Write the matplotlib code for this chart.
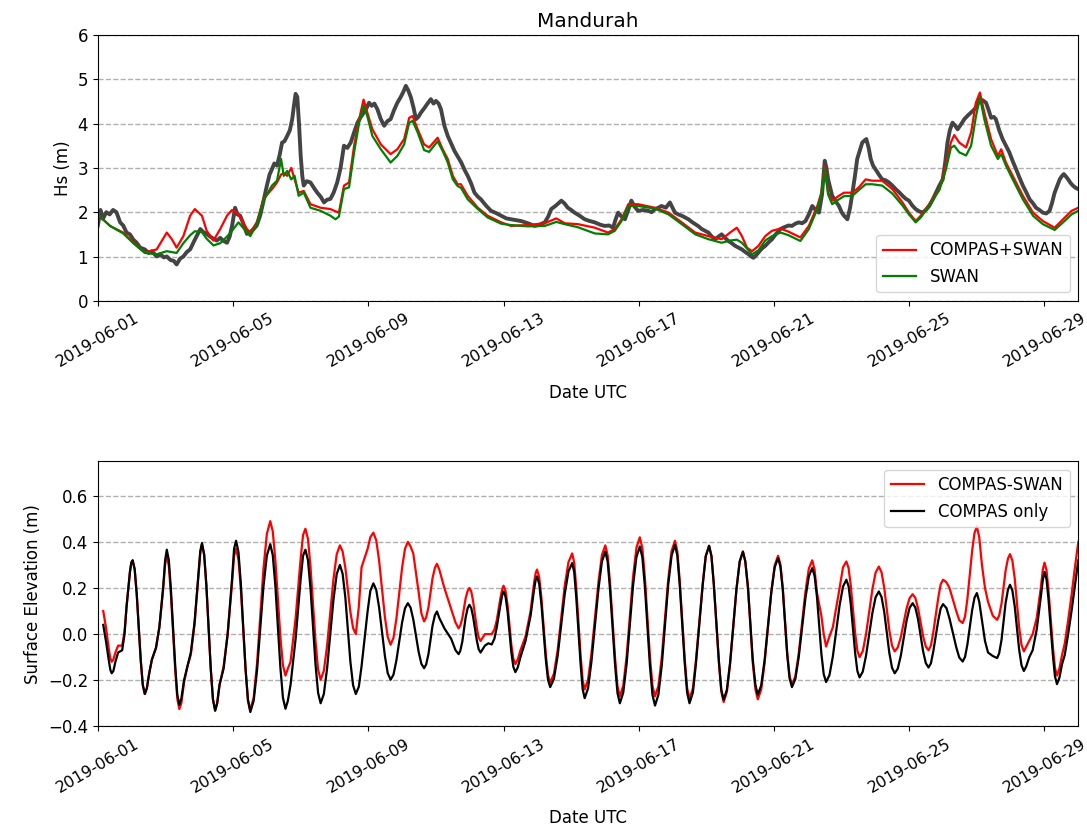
import pandas as pd
import matplotlib
matplotlib.use("Agg")
import matplotlib.pyplot as plt
import matplotlib.dates as mdates

plt.rcParams["font.size"] = 12

start = pd.Timestamp("2019-06-01")

# --- wave height (days since 2019-06-01) ---
obs_days = [0.0, 0.08, 0.15, 0.25, 0.35, 0.45, 0.55, 0.66, 0.75, 0.85, 0.95, 1.05, 1.15, 1.25, 1.39,
            1.5, 1.6, 1.74, 1.85, 1.95, 2.04, 2.15, 2.25, 2.33, 2.43, 2.53, 2.63, 2.73, 2.85, 2.95,
            3.03, 3.12, 3.22, 3.32, 3.42, 3.52, 3.62, 3.72, 3.82, 3.90, 3.97, 4.06, 4.13, 4.21, 4.30,
            4.41, 4.51, 4.61, 4.70, 4.80, 4.90, 5.00, 5.08, 5.15, 5.22, 5.30, 5.38, 5.45, 5.52, 5.60,
            5.68, 5.75, 5.80, 5.85, 5.90, 5.95, 6.00, 6.05, 6.09, 6.18, 6.29, 6.39, 6.49, 6.59, 6.69,
            6.78, 6.88, 6.98, 7.08, 7.18, 7.28, 7.38, 7.48, 7.58, 7.68, 7.78, 7.87, 7.95, 8.02, 8.10,
            8.18, 8.27, 8.37, 8.47, 8.56, 8.66, 8.76, 8.86, 8.96, 9.04, 9.11, 9.18, 9.26, 9.34, 9.41,
            9.48, 9.56, 9.66, 9.75, 9.85, 9.93, 10.00, 10.08, 10.15, 10.25, 10.35, 10.45, 10.55, 10.65,
            10.75, 10.85, 10.94, 11.04, 11.14, 11.24, 11.33, 11.48, 11.63, 11.78, 11.93, 12.08, 12.22,
            12.37, 12.52, 12.72, 12.92, 13.07, 13.22, 13.32, 13.41, 13.55, 13.71, 13.80, 13.90, 14.00,
            14.10, 14.25, 14.40, 14.55, 14.70, 14.85, 14.99, 15.12, 15.24, 15.32, 15.39, 15.49, 15.59,
            15.69, 15.78, 15.88, 15.98, 16.13, 16.28, 16.38, 16.48, 16.58, 16.67, 16.80, 16.92, 17.00,
            17.07, 17.17, 17.27, 17.37, 17.47, 17.57, 17.67, 17.77, 17.86, 17.96, 18.06, 18.16, 18.26,
            18.36, 18.45, 18.55, 18.65, 18.75, 18.85, 18.95, 19.05, 19.15, 19.25, 19.33, 19.39, 19.46,
            19.54, 19.64, 19.74, 19.84, 19.94, 20.05, 20.19, 20.30, 20.43, 20.53, 20.63, 20.73, 20.83,
            20.93, 21.03, 21.13, 21.23, 21.33, 21.42, 21.50, 21.55, 21.60, 21.66, 21.72, 21.82, 21.92,
            22.00, 22.07, 22.17, 22.25, 22.32, 22.40, 22.46, 22.54, 22.61, 22.68, 22.73, 22.80, 22.86,
            22.93, 23.00, 23.10, 23.20, 23.30, 23.40, 23.50, 23.60, 23.70, 23.80, 23.90, 23.99, 24.09,
            24.19, 24.29, 24.39, 24.49, 24.59, 24.69, 24.79, 24.89, 24.99, 25.06, 25.13, 25.20, 25.28,
            25.36, 25.43, 25.53, 25.63, 25.73, 25.83, 25.90, 25.97, 26.03, 26.09, 26.18, 26.27, 26.35,
            26.42, 26.50, 26.56, 26.66, 26.76, 26.86, 26.96, 27.06, 27.16, 27.26, 27.36, 27.46, 27.56,
            27.66, 27.75, 27.85, 27.95, 28.05, 28.15, 28.22, 28.30, 28.38, 28.45, 28.52, 28.57, 28.64,
            28.70, 28.77, 28.84, 28.92, 29.00]
obs_hs = [1.70, 2.05, 1.85, 2.00, 1.95, 2.05, 2.00, 1.77, 1.70, 1.54, 1.50, 1.38, 1.31, 1.20, 1.16,
          1.08, 1.12, 1.00, 1.05, 0.98, 1.00, 0.92, 0.90, 0.82, 0.95, 1.00, 1.10, 1.16, 1.35, 1.50,
          1.62, 1.55, 1.51, 1.45, 1.40, 1.36, 1.42, 1.35, 1.31, 1.45, 1.69, 2.10, 1.95, 1.92, 1.75,
          1.51, 1.55, 1.62, 1.70, 1.92, 2.25, 2.60, 2.85, 2.97, 3.10, 3.05, 3.30, 3.57, 3.60, 3.72,
          3.85, 4.10, 4.40, 4.67, 4.60, 4.00, 3.27, 2.80, 2.60, 2.70, 2.67, 2.55, 2.44, 2.35, 2.22,
          2.28, 2.30, 2.45, 2.67, 3.00, 3.50, 3.45, 3.57, 3.80, 4.02, 4.15, 4.25, 4.35, 4.47, 4.40,
          4.45, 4.32, 4.10, 3.95, 4.05, 4.10, 4.30, 4.47, 4.60, 4.72, 4.85, 4.75, 4.59, 4.35, 4.10,
          4.15, 4.25, 4.35, 4.45, 4.55, 4.45, 4.51, 4.45, 4.32, 3.95, 3.72, 3.55, 3.38, 3.25,
          3.12, 2.95, 2.82, 2.65, 2.44, 2.35, 2.29, 2.15, 2.03, 1.98, 1.92, 1.86, 1.84,
          1.82, 1.80, 1.75, 1.69, 1.72, 1.77, 1.90, 2.07, 2.15, 2.26, 2.20, 2.10, 2.05,
          1.99, 1.92, 1.84, 1.80, 1.77, 1.72, 1.69, 1.70, 1.65, 1.85, 1.99, 1.90, 1.84,
          2.05, 2.26, 2.12, 2.03, 2.05, 2.03, 2.00, 2.07, 2.10, 2.14, 2.10, 2.22, 2.10,
          1.99, 1.95, 1.92, 1.88, 1.84, 1.78, 1.73, 1.68, 1.62, 1.58, 1.54, 1.45, 1.39,
          1.45, 1.50, 1.42, 1.35, 1.30, 1.24, 1.20, 1.16, 1.10, 1.05, 1.00, 0.97, 1.02,
          1.09, 1.18, 1.24, 1.32, 1.39, 1.50, 1.62, 1.66, 1.70, 1.69, 1.74, 1.77, 1.75,
          1.80, 1.95, 2.14, 2.05, 1.99, 2.40, 3.16, 3.00, 2.74, 2.55, 2.37, 2.25, 2.14,
          2.00, 1.92, 1.84, 2.10, 2.44, 2.85, 3.20, 3.40, 3.57, 3.62, 3.65, 3.45, 3.20,
          3.05, 2.97, 2.85, 2.74, 2.72, 2.67, 2.60, 2.52, 2.45, 2.37, 2.30, 2.26, 2.15,
          2.07, 2.02, 1.99, 2.05, 2.14, 2.28, 2.44, 2.60, 2.74, 3.10, 3.57, 3.85, 4.02,
          3.95, 3.87, 3.98, 4.10, 4.18, 4.25, 4.30, 4.36, 4.45, 4.55, 4.52, 4.47, 4.30,
          4.13, 4.15, 4.10, 3.85, 3.65, 3.50, 3.35, 3.15, 2.97, 2.78, 2.60, 2.45, 2.29,
          2.20, 2.10, 2.05, 1.99, 1.97, 2.03, 2.20, 2.44, 2.60, 2.74, 2.82, 2.86, 2.80,
          2.74, 2.66, 2.60, 2.55, 2.52]

model_days = [0.0, 0.36, 0.75, 1.05, 1.39, 1.74, 2.04, 2.19, 2.33, 2.53, 2.73, 2.87, 3.08, 3.22, 3.42,
              3.62, 3.82, 3.97, 4.16, 4.41, 4.51, 4.70, 4.90, 5.15, 5.30, 5.42, 5.50, 5.60, 5.72, 5.82,
              5.94, 6.09, 6.29, 6.59, 6.88, 7.03, 7.13, 7.28, 7.43, 7.58, 7.73, 7.86, 7.97, 8.12, 8.37,
              8.66, 8.86, 9.06, 9.21, 9.31, 9.46, 9.65, 9.80, 10.05, 10.20, 10.35, 10.50, 10.64, 10.74,
              10.94, 11.24, 11.53, 11.93, 12.22, 12.72, 13.22, 13.56, 13.81, 14.20, 14.70, 15.09, 15.29,
              15.49, 15.69, 15.98, 16.48, 16.88, 17.27, 17.67, 18.06, 18.45, 18.70, 18.90, 19.05, 19.20,
              19.35, 19.54, 19.74, 19.94, 20.19, 20.43, 20.78, 21.03, 21.28, 21.40, 21.50, 21.60, 21.72,
              21.92, 22.07, 22.32, 22.51, 22.71, 22.91, 23.20, 23.50, 23.80, 23.99, 24.19, 24.34, 24.59,
              24.89, 25.08, 25.23, 25.33, 25.48, 25.68, 25.83, 25.97, 26.09, 26.22, 26.42, 26.62, 26.72,
              26.86, 27.06, 27.36, 27.66, 27.95, 28.30, 28.55, 28.80, 29.00]
hs_compas_swan = [1.95, 1.69, 1.54, 1.31, 1.09, 1.16, 1.54, 1.39, 1.20, 1.46, 1.92, 2.07, 1.92, 1.58, 1.36,
                  1.62, 1.92, 2.05, 1.95, 1.62, 1.54, 1.77, 2.30, 2.52, 2.67, 2.85, 2.88, 2.82, 3.00, 2.74,
                  2.44, 2.48, 2.18, 2.10, 2.07, 2.02, 1.99, 2.60, 2.67, 3.50, 4.10, 4.54, 4.25, 3.87, 3.53,
                  3.31, 3.42, 3.65, 4.13, 4.17, 3.87, 3.53, 3.46, 3.68, 3.42, 3.20, 2.82, 2.63, 2.63,
                  2.37, 2.10, 1.92, 1.77, 1.69, 1.71, 1.75, 1.86, 1.75, 1.73, 1.65, 1.54, 1.62,
                  1.84, 2.18, 2.18, 2.10, 1.99, 1.77, 1.54, 1.46, 1.39, 1.54, 1.65, 1.46, 1.20,
                  1.12, 1.24, 1.46, 1.58, 1.63, 1.56, 1.43, 1.69, 2.14, 2.44, 3.04, 2.44, 2.26,
                  2.37, 2.44, 2.44, 2.56, 2.74, 2.71, 2.71, 2.52, 2.22, 1.99, 1.80, 1.92, 2.18,
                  2.52, 3.05, 3.57, 3.74, 3.57, 3.46, 3.80, 4.47, 4.70, 4.25, 3.65, 3.27, 3.42,
                  3.12, 2.82, 2.37, 1.99, 1.80, 1.65, 1.84, 2.03, 2.10]
hs_swan = [1.95, 1.69, 1.52, 1.30, 1.08, 1.05, 1.12, 1.10, 1.08, 1.30, 1.48, 1.57, 1.55, 1.40, 1.25,
           1.30, 1.45, 1.58, 1.77, 1.55, 1.46, 1.73, 2.26, 2.60, 2.71, 3.20, 2.82, 2.93, 2.74, 2.82,
           2.37, 2.44, 2.10, 2.03, 1.92, 1.84, 1.90, 2.52, 2.56, 3.35, 4.02, 4.40, 4.17, 3.72, 3.42,
           3.12, 3.27, 3.53, 4.02, 4.06, 3.80, 3.40, 3.36, 3.60, 3.38, 3.12, 2.74, 2.59, 2.55,
           2.29, 2.07, 1.88, 1.74, 1.71, 1.68, 1.69, 1.78, 1.73, 1.66, 1.52, 1.50, 1.58,
           1.80, 2.14, 2.14, 2.08, 1.95, 1.73, 1.50, 1.39, 1.31, 1.36, 1.38, 1.31, 1.18,
           1.05, 1.14, 1.36, 1.46, 1.54, 1.48, 1.35, 1.62, 2.07, 2.40, 2.97, 2.40, 2.18,
           2.29, 2.36, 2.37, 2.50, 2.63, 2.63, 2.60, 2.42, 2.15, 1.95, 1.77, 1.88, 2.15,
           2.50, 2.95, 3.45, 3.50, 3.35, 3.28, 3.50, 4.15, 4.59, 4.10, 3.50, 3.20, 3.31,
           3.05, 2.74, 2.29, 1.92, 1.73, 1.60, 1.77, 1.95, 2.03]

# --- surface elevation (days since 2019-06-01, COMPAS only, COMPAS-SWAN) ---
tide_rows = [
    (0.16, 0.04, 0.10), (0.24, -0.03, 0.03), (0.32, -0.11, -0.06), (0.37, -0.155, -0.105),
    (0.41, -0.17, -0.12), (0.46, -0.16, -0.11), (0.52, -0.12, -0.08), (0.60, -0.08, -0.05),
    (0.72, -0.07, -0.05), (0.79, 0.00, 0.01), (0.85, 0.12, 0.12), (0.95, 0.27, 0.27),
    (0.99, 0.31, 0.31), (1.03, 0.32, 0.32), (1.09, 0.281, 0.281), (1.15, 0.175, 0.175),
    (1.27, -0.115, -0.115), (1.33, -0.221, -0.221), (1.39, -0.26, -0.26), (1.45, -0.235, -0.235),
    (1.52, -0.17, -0.17), (1.60, -0.11, -0.11), (1.72, -0.06, -0.06), (1.82, 0.03, 0.03),
    (1.93, 0.20, 0.19), (1.99, 0.32, 0.30), (2.04, 0.366, 0.34), (2.10, 0.321, 0.295),
    (2.16, 0.198, 0.174), (2.29, -0.139, -0.159), (2.35, -0.262, -0.280), (2.41, -0.307, -0.325),
    (2.47, -0.28, -0.30), (2.55, -0.20, -0.21), (2.65, -0.14, -0.14), (2.75, -0.08, -0.09),
    (2.86, 0.05, 0.04), (2.97, 0.25, 0.24), (3.03, 0.36, 0.35), (3.08, 0.395, 0.39),
    (3.145, 0.346, 0.342), (3.21, 0.213, 0.21), (3.34, -0.151, -0.15), (3.405, -0.284, -0.282),
    (3.47, -0.333, -0.33), (3.53, -0.30, -0.30), (3.60, -0.22, -0.22), (3.72, -0.15, -0.14),
    (3.84, 0.0, 0.0), (3.97, 0.24, 0.22), (4.03, 0.37, 0.34), (4.09, 0.405, 0.37),
    (4.16, 0.355, 0.323), (4.23, 0.219, 0.195), (4.37, -0.152, -0.155), (4.44, -0.288, -0.283),
    (4.51, -0.338, -0.33), (4.61, -0.289, -0.275), (4.71, -0.156, -0.125), (4.90, 0.208, 0.285),
    (5.00, 0.341, 0.435), (5.10, 0.39, 0.49), (5.175, 0.342, 0.445), (5.25, 0.211, 0.322),
    (5.40, -0.146, -0.013), (5.475, -0.276, -0.135), (5.55, -0.324, -0.18), (5.62, -0.29, -0.15),
    (5.70, -0.22, -0.12), (5.85, -0.02, 0.07), (6.00, 0.24, 0.33), (6.07, 0.34, 0.43),
    (6.14, 0.366, 0.457), (6.215, 0.321, 0.413), (6.29, 0.199, 0.293), (6.44, -0.134, -0.034),
    (6.515, -0.255, -0.154), (6.59, -0.30, -0.198), (6.685, -0.26, -0.159), (6.78, -0.15, -0.052),
    (6.97, 0.15, 0.239), (7.065, 0.26, 0.346), (7.16, 0.30, 0.385), (7.24, 0.262, 0.359),
    (7.32, 0.16, 0.289), (7.47, -0.12, 0.096), (7.55, -0.222, 0.026), (7.63, -0.26, 0.0),
    (7.72, -0.228, 0.12), (7.80, -0.14, 0.29), (7.98, 0.10, 0.37), (8.06, 0.188, 0.42),
    (8.15, 0.22, 0.44), (8.235, 0.192, 0.407), (8.32, 0.115, 0.318), (8.49, -0.094, 0.075),
    (8.575, -0.17, -0.013), (8.66, -0.198, -0.046), (8.745, -0.176, -0.016), (8.83, -0.115, 0.066),
    (9.00, 0.051, 0.289), (9.085, 0.112, 0.37), (9.17, 0.134, 0.40), (9.25, 0.115, 0.38),
    (9.33, 0.064, 0.35), (9.49, -0.078, 0.18), (9.57, -0.129, 0.09), (9.65, -0.148, 0.055),
    (9.71, -0.132, 0.072), (9.78, -0.086, 0.117), (9.90, 0.037, 0.243), (9.97, 0.082, 0.288),
    (10.03, 0.098, 0.305), (10.10, 0.07, 0.28), (10.25, 0.025, 0.20), (10.45, -0.02, 0.11),
    (10.58, -0.07, 0.05), (10.67, -0.087, 0.025), (10.72, -0.073, 0.037), (10.78, -0.033, 0.069),
    (10.88, 0.073, 0.156), (10.94, 0.113, 0.188), (10.99, 0.127, 0.20), (11.045, 0.113, 0.185),
    (11.10, 0.075, 0.142), (11.21, -0.028, 0.027), (11.265, -0.066, -0.015), (11.32, -0.08, -0.03),
    (11.45, -0.05, 0.0), (11.55, -0.04, 0.0), (11.65, -0.045, 0.0), (11.73, -0.02, 0.02),
    (11.80, 0.03, 0.06), (11.90, 0.12, 0.15), (11.96, 0.17, 0.195), (12.00, 0.185, 0.21),
    (12.06, 0.162, 0.187), (12.12, 0.097, 0.125), (12.23, -0.078, -0.045), (12.29, -0.142, -0.107),
    (12.35, -0.165, -0.13), (12.42, -0.145, -0.11), (12.50, -0.10, -0.07), (12.65, -0.03, -0.01),
    (12.80, 0.08, 0.10), (12.90, 0.19, 0.22), (12.95, 0.235, 0.265), (12.99, 0.25, 0.28),
    (13.055, 0.218, 0.247), (13.12, 0.13, 0.157), (13.25, -0.11, -0.088), (13.315, -0.198, -0.177),
    (13.38, -0.23, -0.21), (13.49, -0.194, -0.172), (13.60, -0.095, -0.07), (13.81, 0.174, 0.21),
    (13.92, 0.272, 0.312), (14.03, 0.308, 0.35), (14.09, 0.269, 0.31), (14.15, 0.161, 0.202),
    (14.28, -0.132, -0.093), (14.34, -0.239, -0.20), (14.40, -0.278, -0.24), (14.50, -0.235, -0.198),
    (14.60, -0.119, -0.084), (14.81, 0.199, 0.229), (14.91, 0.315, 0.343), (15.01, 0.358, 0.385),
    (15.08, 0.314, 0.341), (15.15, 0.193, 0.221), (15.30, -0.136, -0.106), (15.37, -0.256, -0.226),
    (15.44, -0.30, -0.27), (15.54, -0.254, -0.224), (15.64, -0.13, -0.097), (15.83, 0.21, 0.248),
    (15.93, 0.334, 0.374), (16.03, 0.38, 0.42), (16.105, 0.334, 0.374), (16.18, 0.207, 0.247),
    (16.33, -0.138, -0.098), (16.405, -0.264, -0.224), (16.48, -0.31, -0.27), (16.58, -0.263, -0.225),
    (16.68, -0.136, -0.101), (16.87, 0.213, 0.236), (16.97, 0.34, 0.36), (17.07, 0.387, 0.405),
    (17.14, 0.341, 0.359), (17.21, 0.215, 0.234), (17.36, -0.128, -0.109), (17.43, -0.254, -0.234),
    (17.50, -0.30, -0.28), (17.60, -0.254, -0.236), (17.69, -0.129, -0.114), (17.89, 0.212, 0.217),
    (17.98, 0.337, 0.339), (18.08, 0.383, 0.383), (18.15, 0.338, 0.338), (18.22, 0.216, 0.213),
    (18.37, -0.118, -0.126), (18.44, -0.24, -0.25), (18.51, -0.285, -0.295), (18.605, -0.242, -0.251),
    (18.70, -0.124, -0.132), (18.89, 0.197, 0.195), (18.985, 0.315, 0.314), (19.08, 0.358, 0.358),
    (19.15, 0.316, 0.315), (19.23, 0.203, 0.198), (19.37, -0.108, -0.123), (19.45, -0.221, -0.24),
    (19.52, -0.263, -0.283), (19.62, -0.223, -0.241), (19.72, -0.115, -0.127), (19.92, 0.182, 0.184),
    (20.02, 0.29, 0.298), (20.12, 0.33, 0.34), (20.19, 0.292, 0.302), (20.26, 0.19, 0.20),
    (20.39, -0.09, -0.08), (20.46, -0.192, -0.182), (20.53, -0.23, -0.22), (20.63, -0.195, -0.184),
    (20.73, -0.101, -0.085), (20.93, 0.157, 0.185), (21.03, 0.251, 0.284), (21.13, 0.286, 0.32),
    (21.20, 0.253, 0.28), (21.27, 0.162, 0.18), (21.40, -0.084, 0.08), (21.47, -0.174, 0.0),
    (21.54, -0.208, -0.054), (21.64, -0.178, -0.01), (21.74, -0.097, 0.03), (21.94, 0.125, 0.20),
    (22.04, 0.206, 0.29), (22.14, 0.236, 0.315), (22.205, 0.208, 0.287), (22.27, 0.13, 0.211),
    (22.40, -0.082, 0.004), (22.465, -0.16, -0.072), (22.53, -0.188, -0.10), (22.625, -0.163, -0.074),
    (22.72, -0.095, -0.002), (22.91, 0.092, 0.195), (23.005, 0.16, 0.267), (23.10, 0.185, 0.293),
    (23.18, 0.161, 0.268), (23.26, 0.096, 0.201), (23.41, -0.081, 0.017), (23.49, -0.146, -0.05),
    (23.57, -0.17, -0.075), (23.66, -0.15, -0.058), (23.75, -0.094, -0.013), (23.92, 0.058, 0.111),
    (24.01, 0.114, 0.156), (24.10, 0.134, 0.173), (24.18, 0.115, 0.157), (24.26, 0.064, 0.112),
    (24.41, -0.075, -0.009), (24.49, -0.126, -0.054), (24.57, -0.145, -0.07), (24.64, -0.127, -0.05),
    (24.71, -0.076, 0.007), (24.86, 0.061, 0.16), (24.93, 0.112, 0.216), (25.00, 0.13, 0.236),
    (25.10, 0.113, 0.225), (25.19, 0.068, 0.20), (25.39, -0.057, 0.10), (25.48, -0.102, 0.06),
    (25.58, -0.119, 0.048), (25.65, -0.099, 0.076), (25.72, -0.045, 0.153), (25.86, 0.104, 0.362),
    (25.93, 0.158, 0.439), (26.00, 0.178, 0.467), (26.07, 0.14, 0.42), (26.15, 0.06, 0.30),
    (26.24, -0.03, 0.20), (26.33, -0.08, 0.14), (26.47, -0.095, 0.08), (26.60, -0.104, 0.062),
    (26.66, -0.083, 0.081), (26.73, -0.024, 0.133), (26.85, 0.135, 0.276), (26.92, 0.193, 0.328),
    (26.98, 0.214, 0.347), (27.05, 0.189, 0.319), (27.12, 0.12, 0.241), (27.25, -0.067, 0.03),
    (27.32, -0.135, -0.047), (27.39, -0.16, -0.075), (27.46, -0.14, -0.055), (27.55, -0.10, -0.03),
    (27.65, -0.07, 0.0), (27.77, 0.02, 0.07), (27.89, 0.16, 0.20), (27.95, 0.235, 0.28),
    (28.00, 0.27, 0.31), (28.06, 0.237, 0.277), (28.12, 0.148, 0.187), (28.25, -0.095, -0.058),
    (28.31, -0.184, -0.147), (28.37, -0.217, -0.18), (28.44, -0.19, -0.15), (28.52, -0.13, -0.09),
    (28.60, -0.09, -0.04), (28.70, 0.0, 0.06), (28.80, 0.10, 0.17), (28.90, 0.21, 0.29),
    (29.00, 0.32, 0.40),
]
tide_days = [r[0] for r in tide_rows]
eta_compas = [r[1] for r in tide_rows]
eta_compas_swan = [r[2] for r in tide_rows]


def to_dates(days):
    return start + pd.to_timedelta(days, unit="D")


fig = plt.figure(figsize=(10.87, 8.31), dpi=100)
ax1 = fig.add_axes([0.090, 0.638, 0.902, 0.320])
ax2 = fig.add_axes([0.090, 0.126, 0.902, 0.319])

ax1.plot(to_dates(obs_days), obs_hs, color="#444444", lw=2.8)
ax1.plot(to_dates(model_days), hs_compas_swan, color="red", lw=1.6, label="COMPAS+SWAN")
ax1.plot(to_dates(model_days), hs_swan, color="green", lw=1.6, label="SWAN")
ax1.set_ylim(0, 6)
ax1.set_ylabel("Hs (m)")
ax1.set_title("Mandurah")
ax1.legend(loc="lower right")

ax2.plot(to_dates(tide_days), eta_compas_swan, color="red", lw=1.6, label="COMPAS-SWAN")
ax2.plot(to_dates(tide_days), eta_compas, color="black", lw=1.6, label="COMPAS only")
ax2.set_ylim(-0.4, 0.75)
ax2.set_ylabel("Surface Elevation (m)")
ax2.legend(loc="upper right")

for ax in (ax1, ax2):
    ax.set_xlim(start, start + pd.Timedelta(days=29))
    ax.xaxis.set_major_locator(mdates.DayLocator(bymonthday=[1, 5, 9, 13, 17, 21, 25, 29]))
    ax.xaxis.set_major_formatter(mdates.DateFormatter("%Y-%m-%d"))
    ax.set_xlabel("Date UTC", labelpad=10)
    ax.grid(axis="y", linestyle="--", color="#b0b0b0", lw=1)
    for lab in ax.get_xticklabels():
        lab.set_rotation(30)
        lab.set_fontsize(11.5)

fig.savefig("out.png", dpi=100)
